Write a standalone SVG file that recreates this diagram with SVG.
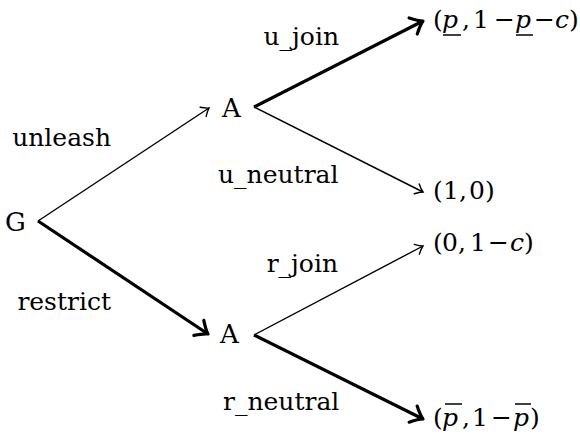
<svg xmlns="http://www.w3.org/2000/svg" width="580" height="434" viewBox="0 0 580 434">
<style>
.t{font-family:"DejaVu Serif","Liberation Serif",serif;font-size:25px;fill:#000}
.n{font-size:26px}
.i{font-style:italic}
.thin{stroke:#000;stroke-width:1.4;fill:none;marker-end:url(#ah)}
.thick{stroke:#000;stroke-width:3.2;fill:none;marker-end:url(#ahb)}
.bar{stroke:#000;stroke-width:1.5}
</style>
<defs>
<marker id="ah" markerUnits="userSpaceOnUse" orient="auto" refX="0" refY="0" markerWidth="10" markerHeight="10" overflow="visible">
<path d="M-7,-5.5 C-4.5,-3 -1.5,-0.8 0,0 C-1.5,0.8 -4.5,3 -7,5.5" fill="none" stroke="#000" stroke-width="1.4" stroke-linecap="round"/>
</marker>
<marker id="ahb" markerUnits="userSpaceOnUse" orient="auto" refX="0" refY="0" markerWidth="10" markerHeight="10" overflow="visible">
<path d="M-11,-9 C-7,-5 -2.5,-1.2 0,0 C-2.5,1.2 -7,5 -11,9" fill="none" stroke="#000" stroke-width="3.2" stroke-linecap="round" stroke-linejoin="round"/>
</marker>
</defs>
<g id="connectors">
<line class="thin" x1="38" y1="221" x2="209" y2="108"/>
<line class="thick" x1="38" y1="221" x2="208" y2="334"/>
<line class="thick" x1="254" y1="107" x2="423" y2="21"/>
<line class="thin" x1="254" y1="107" x2="423" y2="192"/>
<line class="thin" x1="254" y1="335" x2="423" y2="246"/>
<line class="thick" x1="254" y1="335" x2="423" y2="419"/>
</g>
<g id="edge-labels">
<text class="t" x="111" y="146" text-anchor="end">unleash</text>
<text class="t" x="111" y="310" text-anchor="end">restrict</text>
<text class="t" x="339" y="45" text-anchor="end">u_join</text>
<text class="t" x="218" y="183">u_neutral</text>
<text class="t" x="338" y="272" text-anchor="end">r_join</text>
<text class="t" x="223" y="410">r_neutral</text>
</g>
<g id="node-G"><text class="t n" x="5" y="231">G</text></g>
<g id="node-A1"><text class="t n" x="222" y="117">A</text></g>
<g id="node-A2"><text class="t n" x="220" y="343">A</text></g>
<g id="leaf-u-join">
<text class="t" y="28"><tspan x="433">(</tspan><tspan x="442" class="i">p</tspan><tspan x="462">,</tspan><tspan x="473">1</tspan><tspan x="494">−</tspan><tspan x="515" class="i">p</tspan><tspan x="534">−</tspan><tspan x="555" class="i">c</tspan><tspan x="569">)</tspan></text>
<line class="bar" x1="443" y1="35" x2="461" y2="35"/>
<line class="bar" x1="516" y1="35" x2="533" y2="35"/>
</g>
<g id="leaf-u-neutral">
<text class="t" y="199"><tspan x="433">(</tspan><tspan x="443">1</tspan><tspan x="459">,</tspan><tspan x="469">0</tspan><tspan x="485">)</tspan></text>
</g>
<g id="leaf-r-join">
<text class="t" y="251"><tspan x="433">(</tspan><tspan x="442">0</tspan><tspan x="458">,</tspan><tspan x="470">1</tspan><tspan x="488">−</tspan><tspan x="510" class="i">c</tspan><tspan x="524">)</tspan></text>
</g>
<g id="leaf-r-neutral">
<text class="t" y="426"><tspan x="433">(</tspan><tspan x="442" class="i">p</tspan><tspan x="462">,</tspan><tspan x="472">1</tspan><tspan x="491">−</tspan><tspan x="513" class="i">p</tspan><tspan x="530">)</tspan></text>
<line class="bar" x1="445" y1="404" x2="462" y2="404"/>
<line class="bar" x1="515" y1="404" x2="531" y2="404"/>
</g>
</svg>
